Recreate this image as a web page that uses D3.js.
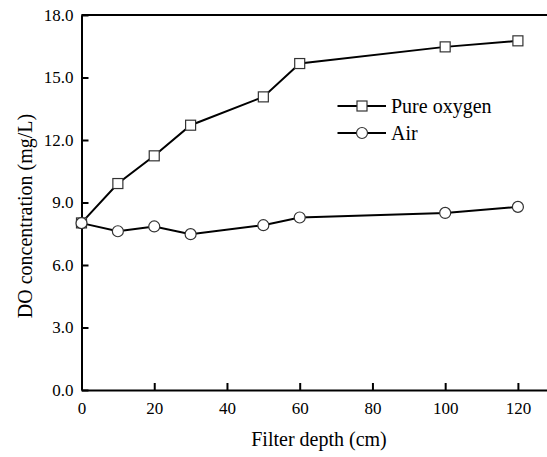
<!DOCTYPE html>
<html>
<head>
<meta charset="utf-8">
<title>DO concentration vs filter depth</title>
<script src="https://cdn.jsdelivr.net/npm/d3@7"></script>
</head>
<body style="margin:0;background:#fff">
<svg id="chart" width="547" height="457"></svg>
<script>
const depth = [0, 10, 20, 30, 50, 60, 100, 120];
const pureOxygen = [8.02, 9.91, 11.24, 12.71, 14.07, 15.67, 16.47, 16.76];
const air = [8.01, 7.62, 7.85, 7.48, 7.91, 8.28, 8.50, 8.79];
const xTicks = [0, 20, 40, 60, 80, 100, 120];
const yTicks = [0, 3, 6, 9, 12, 15, 18];
const seriesNames = ["Pure oxygen", "Air"];

const FONT = "'Liberation Serif', 'Times New Roman', serif";
const svg = d3.select("#chart");
const margin = { left: 81.5, top: 15, right: 0, bottom: 67 };
const W = 547, H = 457;

function serif(sel, size) {
  sel.attr("font-family", FONT).attr("font-size", size)
    .style("font-family", FONT, "important")
    .style("font-size", size + "px", "important")
    .style("fill", "#000");
}

const x = d3.scaleLinear().domain([0, 128]).range([margin.left, W - margin.right]);
const y = d3.scaleLinear().domain([0, 18]).range([H - margin.bottom, margin.top]);

svg.append("line")
  .attr("x1", margin.left).attr("x2", W)
  .attr("y1", y(18)).attr("y2", y(18))
  .attr("stroke", "#000").attr("stroke-width", 2);

const xAxis = svg.append("g")
  .attr("transform", `translate(0,${y(0)})`)
  .call(d3.axisBottom(x).tickValues(xTicks).tickSizeInner(-7).tickSizeOuter(0).tickPadding(12).tickFormat(d3.format("d")));
xAxis.select(".domain").attr("stroke-width", 2);
xAxis.selectAll(".tick line").attr("stroke-width", 2);
serif(xAxis.selectAll("text"), 17);

const yAxis = svg.append("g")
  .attr("transform", `translate(${x(0)},0)`)
  .call(d3.axisLeft(y).tickValues(yTicks).tickSizeInner(-7).tickSizeOuter(0).tickPadding(8).tickFormat(d3.format(".1f")));
yAxis.select(".domain").attr("stroke-width", 2);
yAxis.selectAll(".tick line").attr("stroke-width", 2);
serif(yAxis.selectAll("text"), 17);

svg.append("text")
  .attr("x", 319).attr("y", 446)
  .attr("text-anchor", "middle")
  .call(serif, 20)
  .text("Filter depth (cm)");

svg.append("text")
  .attr("transform", `translate(32,216) rotate(-90)`)
  .attr("text-anchor", "middle")
  .call(serif, 20)
  .text("DO concentration (mg/L)");

const line = d3.line().x((d, i) => x(depth[i])).y(d => y(d));

[pureOxygen, air].forEach(s => {
  svg.append("path")
    .datum(s)
    .attr("d", line)
    .attr("fill", "none")
    .attr("stroke", "#000")
    .attr("stroke-width", 2);
});

svg.append("g").selectAll("rect")
  .data(pureOxygen)
  .join("rect")
  .attr("x", (d, i) => x(depth[i]) - 5)
  .attr("y", d => y(d) - 5)
  .attr("width", 10).attr("height", 10)
  .attr("fill", "#fff").attr("stroke", "#333").attr("stroke-width", 1.2);

svg.append("g").selectAll("circle")
  .data(air)
  .join("circle")
  .attr("cx", (d, i) => x(depth[i]))
  .attr("cy", d => y(d))
  .attr("r", 5.5)
  .attr("fill", "#fff").attr("stroke", "#333").attr("stroke-width", 1.2);

const legend = svg.append("g");
const legRows = [{ name: seriesNames[0], y: 106, shape: "square" }, { name: seriesNames[1], y: 133, shape: "circle" }];
legRows.forEach(r => {
  legend.append("line")
    .attr("x1", 337.5).attr("x2", 386)
    .attr("y1", r.y).attr("y2", r.y)
    .attr("stroke", "#000").attr("stroke-width", 2);
  if (r.shape === "square") {
    legend.append("rect")
      .attr("x", 357).attr("y", r.y - 5)
      .attr("width", 10).attr("height", 10)
      .attr("fill", "#fff").attr("stroke", "#333").attr("stroke-width", 1.2);
  } else {
    legend.append("circle")
      .attr("cx", 362).attr("cy", r.y).attr("r", 5.5)
      .attr("fill", "#fff").attr("stroke", "#333").attr("stroke-width", 1.2);
  }
  legend.append("text")
    .attr("x", 391).attr("y", r.y + 7)
    .call(serif, 20)
    .text(r.name);
});
</script>
</body>
</html>
